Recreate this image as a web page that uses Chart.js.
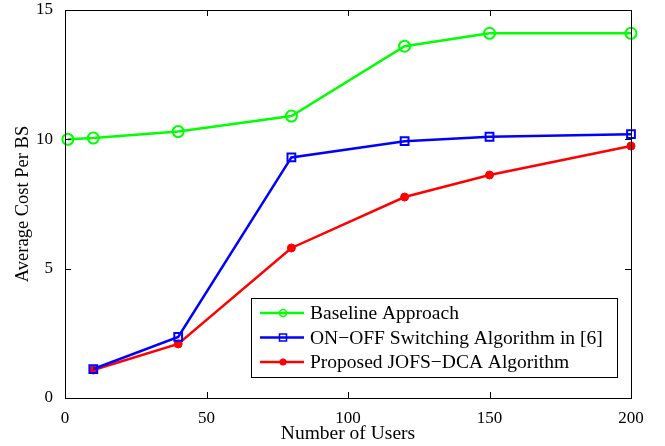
<!DOCTYPE html>
<html>
<head>
<meta charset="utf-8">
<script src="https://cdn.jsdelivr.net/npm/chart.js@4.4.1/dist/chart.umd.min.js"></script>
<style>
  html, body { margin: 0; padding: 0; background: white; }
  #wrap { width: 665px; height: 446px; }
</style>
</head>
<body>
<div id="wrap"><canvas id="costChart"></canvas></div>
<script>
// data
const baselineUsers = [1, 10, 40, 80, 120, 150, 200];
const baselineCost = [10.0, 10.05, 10.3, 10.9, 13.6, 14.1, 14.1];
const onoffUsers = [10, 40, 80, 120, 150, 200];
const onoffCost = [1.12, 2.36, 9.3, 9.93, 10.1, 10.2];
const jofsUsers = [10, 40, 80, 120, 150, 200];
const jofsCost = [1.08, 2.09, 5.8, 7.77, 8.62, 9.74];
const xTicks = [0, 50, 100, 150, 200];
const yTicks = [0, 5, 10, 15];
const seriesNames = ['Baseline Approach', 'ON\u2212OFF Switching Algorithm in [6]', 'Proposed JOFS\u2212DCA Algorithm'];

const serif = "'Liberation Serif', 'DejaVu Serif', serif";

function pts(xs, ys) {
    return xs.map(function (x, i) { return { x: x, y: ys[i] }; });
}

// matlab-like box with inward ticks + legend inside the axes
const matlabBox = {
    id: 'matlabBox',
    afterDraw: function (chart) {
        const ctx = chart.ctx;
        const a = chart.chartArea;
        const xs = chart.scales.x, ys = chart.scales.y;
        ctx.save();
        ctx.strokeStyle = '#000';
        ctx.lineWidth = 1;
        ctx.strokeRect(a.left + 0.5, a.top + 0.5, a.right - a.left, a.bottom - a.top);
        ctx.beginPath();
        xTicks.forEach(function (v) {
            const px = Math.round(xs.getPixelForValue(v)) + 0.5;
            ctx.moveTo(px, a.bottom); ctx.lineTo(px, a.bottom - 6);
            ctx.moveTo(px, a.top); ctx.lineTo(px, a.top + 6);
        });
        yTicks.forEach(function (v) {
            const py = Math.round(ys.getPixelForValue(v)) + 0.5;
            ctx.moveTo(a.left, py); ctx.lineTo(a.left + 6, py);
            ctx.moveTo(a.right, py); ctx.lineTo(a.right - 6, py);
        });
        ctx.stroke();

        // legend
        const bx = 251, by = 298, bw = 366, bh = 79;
        ctx.fillStyle = '#fff';
        ctx.fillRect(bx, by, bw, bh);
        ctx.strokeRect(bx + 0.5, by + 0.5, bw, bh);
        ctx.font = '19.5px ' + serif;
        ctx.textBaseline = 'middle';
        chart.data.datasets.forEach(function (ds, i) {
            const ly = by + 15 + i * 24.5;
            ctx.strokeStyle = ds.borderColor;
            ctx.lineWidth = 2.5;
            ctx.beginPath();
            ctx.moveTo(bx + 9, ly); ctx.lineTo(bx + 53, ly);
            ctx.stroke();
            ctx.lineWidth = 1.5;
            const cx = bx + 32;
            if (ds.pointStyle === 'rect') {
                ctx.strokeRect(cx - 3.5, ly - 3.5, 7, 7);
            } else if (ds.pointBackgroundColor === 'transparent') {
                ctx.beginPath(); ctx.arc(cx, ly, 3.5, 0, Math.PI * 2); ctx.stroke();
            } else {
                ctx.fillStyle = ds.borderColor;
                ctx.beginPath(); ctx.arc(cx, ly, 3.5, 0, Math.PI * 2); ctx.fill();
            }
            ctx.fillStyle = '#000';
            ctx.fillText(ds.label, bx + 59, ly + 1);
        });
        ctx.restore();
    }
};

const ctx = document.getElementById('costChart').getContext('2d');
new Chart(ctx, {
    type: 'line',
    data: {
        datasets: [{
            label: seriesNames[0],
            data: pts(baselineUsers, baselineCost),
            borderColor: '#00ff00',
            borderWidth: 2.5,
            pointStyle: 'circle',
            pointRadius: 5.5,
            pointBorderWidth: 2,
            pointBackgroundColor: 'transparent',
            pointBorderColor: '#00ff00',
            clip: false
        }, {
            label: seriesNames[1],
            data: pts(onoffUsers, onoffCost),
            borderColor: '#0000ff',
            borderWidth: 2.5,
            pointStyle: 'rect',
            pointRadius: 5.5,
            pointBorderWidth: 2,
            pointBackgroundColor: 'transparent',
            pointBorderColor: '#0000ff',
            clip: false
        }, {
            label: seriesNames[2],
            data: pts(jofsUsers, jofsCost),
            borderColor: '#ff0000',
            borderWidth: 2.5,
            pointStyle: 'circle',
            pointRadius: 4,
            pointBorderWidth: 1,
            pointBackgroundColor: '#ff0000',
            pointBorderColor: '#ff0000',
            clip: false
        }]
    },
    options: {
        responsive: true,
        maintainAspectRatio: false,
        animation: false,
        layout: { padding: { left: 0, right: 34, top: 10, bottom: 0 } },
        plugins: {
            legend: { display: false },
            tooltip: { enabled: false }
        },
        scales: {
            x: {
                type: 'linear',
                min: 0,
                max: 200,
                afterBuildTicks: function (scale) { scale.ticks = xTicks.map(function (v) { return { value: v }; }); },
                afterFit: function (scale) { scale.height = 48; scale.paddingLeft = 0; scale.paddingRight = 0; },
                ticks: { color: '#000', font: { family: serif, size: 17 }, padding: 2, maxRotation: 0 },
                grid: { display: false },
                border: { display: false },
                title: { display: true, text: 'Number of Users', color: '#000', font: { family: serif, size: 19.5 }, padding: { top: 0, bottom: 0 } }
            },
            y: {
                type: 'linear',
                min: 0,
                max: 15,
                afterBuildTicks: function (scale) { scale.ticks = yTicks.map(function (v) { return { value: v }; }); },
                afterFit: function (scale) { scale.width = 65; scale.paddingTop = 0; scale.paddingBottom = 0; },
                ticks: { color: '#000', font: { family: serif, size: 17 }, padding: 4 },
                grid: { display: false },
                border: { display: false },
                title: { display: true, text: 'Average Cost Per BS', color: '#000', font: { family: serif, size: 18.5 }, padding: { top: 12, bottom: 0 } }
            }
        }
    },
    plugins: [matlabBox]
});
</script>
</body>
</html>
